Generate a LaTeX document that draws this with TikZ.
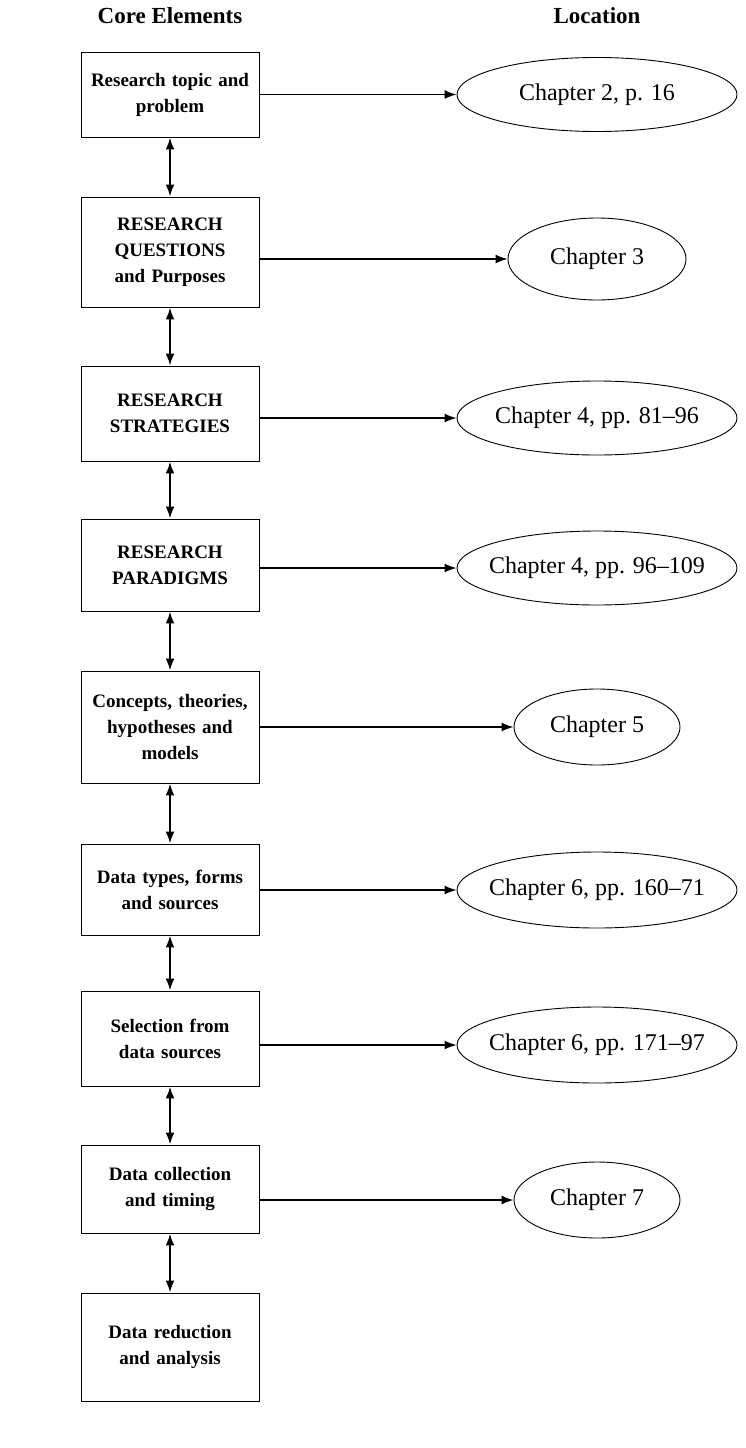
\documentclass[tikz,border=0pt]{standalone}
\usepackage{fontspec}
\setmainfont{Liberation Serif}
\usetikzlibrary{shapes.geometric,arrows.meta,positioning,math}

\begin{document}
\begin{tikzpicture}[x=1pt,y=-1pt]

\tikzmath{
	\X = 170;
	\E = 597;
}

\tikzset{element/.style={
    draw, line width=0.9pt,
    minimum width=178pt,
    text width=174pt,
    minimum height=#1,
    align=center,
    inner sep=0pt,
    font=\bfseries\fontsize{19}{26}\selectfont
  },
  element/.default=90pt,
  place/.style={
    ellipse, draw, line width=0.9pt,
    minimum width=#1,
    minimum height=74pt,
    inner xsep=-14pt, inner ysep=0pt,
    font=\fontsize{24}{28}\selectfont
  },
  place/.default=280pt,
  head/.style={font=\bfseries\fontsize{23}{27}\selectfont, inner sep=0pt},
  link/.style={-{Latex[length=12pt,width=9pt]}, line width=1.5pt},
  updown/.style={{Latex[length=12pt,width=9pt]}-{Latex[length=12pt,width=9pt]}, line width=2.2pt}
}

\useasboundingbox (0,0) rectangle (746,1448);

\node[element=85pt] (b1) at (\X,94.5) {Research topic and\\problem};
\node[element=110pt] (b2) at (\X,252) {RESEARCH\\QUESTIONS\\and Purposes};
\node[element=95pt] (b3) at (\X,413.5) {RESEARCH\\STRATEGIES};
\node[element=92pt] (b4) at (\X,565) {RESEARCH\\PARADIGMS};
\node[element=112pt] (b5) at (\X,727) {Concepts, theories,\\hypotheses and\\models};
\node[element=91pt] (b6) at (\X,889.5) {Data types, forms\\and sources};
\node[element=95pt] (b7) at (\X,1038.5) {Selection from\\data sources};
\node[element=88pt] (b8) at (\X,1189) {Data collection\\and timing};
\node[element=108pt] (b9) at (\X,1347) {Data reduction\\and analysis};

\node[head, above=28pt of b1] (core) {Core Elements};

\node[place] (c1) at (\E,94.5) {Chapter 2, p. 16};
\node[place=178pt, minimum height=82pt] (c2) at (\E,259) {Chapter 3};
\node[place] (c3) at (\E,418) {Chapter 4, pp. 81--96};
\node[place] (c4) at (\E,568) {Chapter 4, pp. 96--109};
\node[place=166pt, minimum height=76pt] (c5) at (\E,727) {Chapter 5};
\node[place, minimum height=76pt] (c6) at (\E,890) {Chapter 6, pp. 160--71};
\node[place, minimum height=76pt] (c7) at (\E,1045) {Chapter 6, pp. 171--97};
\node[place=166pt, minimum height=76pt] (c8) at (\E,1200) {Chapter 7};

\node[head] (loc) at (core -| c1) {Location};

\foreach \a/\b in {b1/b2,b2/b3,b3/b4,b4/b5,b5/b6,b6/b7,b7/b8,b8/b9}
  \draw[updown] (\a) -- (\b);

\foreach \i in {1,...,8}
  \draw[link] (b\i.east |- c\i) -- (c\i);

\end{tikzpicture}
\end{document}
